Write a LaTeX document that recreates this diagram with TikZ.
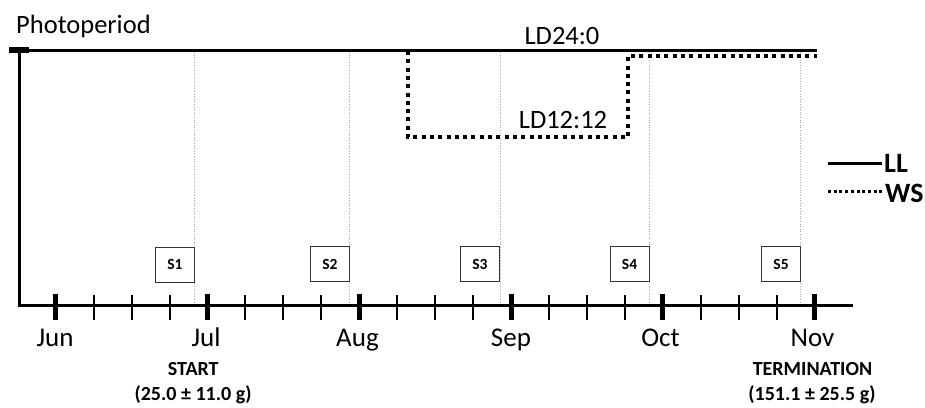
\documentclass[tikz,border=0pt]{standalone}
\usepackage{fontspec}
\setmainfont{Carlito}
\tikzset{
  mainline/.style={line width=3pt, black},
  wsline/.style={line width=4pt, black, dash pattern=on 4pt off 4.3pt},
  legws/.style={line width=3pt, black, dash pattern=on 3pt off 2.7pt},
  guide/.style={line width=0.6pt, gray!70, dotted},
  majortick/.style={line width=5pt, black},
  minortick/.style={line width=2pt, black},
  sbox/.style={draw=black!80, line width=0.8pt, minimum width=39pt, minimum height=35pt, inner sep=0pt, font=\fontsize{15.5}{18}\selectfont\bfseries},
  month/.style={anchor=base, inner sep=0pt, font=\fontsize{27}{30}\selectfont},
  biglbl/.style={anchor=base, inner sep=0pt, font=\fontsize{26.5}{30}\selectfont},
  boldlbl/.style={anchor=base, inner sep=0pt, font=\fontsize{20}{24}\selectfont\bfseries},
  leglbl/.style={anchor=base west, inner sep=0pt, font=\fontsize{28}{30}\selectfont\bfseries}
}
\begin{document}
\begin{tikzpicture}[x=1pt,y=-1pt]
\useasboundingbox (0,0) rectangle (925,407);
% guides
\foreach \gx in {194,349,500,649,800} {
  \draw[guide] (\gx,52) -- (\gx,304);
}
% axes
\coordinate (top) at (19,50);
\coordinate (origin) at (19,305);
\coordinate (axend) at (853,305);
\coordinate (llend) at (817,50);
\draw[mainline] (top) -- (origin) -- (axend);
\fill (9,47) rectangle (29,53);
\draw[mainline] (29,50) -- (llend);
% WS
\coordinate (w1) at (408,51);
\coordinate (w2) at (408,137);
\coordinate (w3) at (628,137);
\coordinate (w4) at (628,56);
\coordinate (w5) at (817,56);
\draw[wsline] (w1) -- (w2) -- (w3) -- (w4) -- (w5);
% ticks
\foreach \i in {0,...,20} {
  \pgfmathsetmacro{\tx}{55.7+\i*37.95}
  \pgfmathtruncatemacro{\m}{mod(\i,4)}
  \ifnum\m=0
    \draw[majortick] (\tx,294) -- (\tx,320);
  \else
    \draw[minortick] (\tx,295) -- (\tx,320);
  \fi
}
% months
\node[month] (jun) at (55,346) {Jun};
\node[month] (jul) at (206,346) {Jul};
\node[month] (aug) at (357.5,346) {Aug};
\node[month] (sep) at (511,346) {Sep};
\node[month] (oct) at (660.5,346) {Oct};
\node[month] (nov) at (812.5,346) {Nov};
% start/termination
\node[boldlbl] (start) at (193.3,375) {START};
\node[boldlbl] (startw) at (193,400) {(25.0 ± 11.0 g)};
\node[boldlbl] (term) at (812.5,375) {TERMINATION};
\node[boldlbl] (termw) at (812,400) {(151.1 ± 25.5 g)};
% sample boxes
\node[sbox] (s1) at (175,264.5) {S1};
\node[sbox] (s2) at (330,264) {S2};
\node[sbox] (s3) at (480,264) {S3};
\node[sbox] (s4) at (629.5,264) {S4};
\node[sbox] (s5) at (781,264) {S5};
% labels
\node[biglbl, anchor=base west] (photo) at (16,33) {Photoperiod};
\node[biglbl] (ld24) at (562,44) {LD24:0};
\node[biglbl] (ld12) at (563,128) {LD12:12};
% legend
\coordinate (ll1) at (828,163);
\coordinate (ll2) at (882,163);
\coordinate (ws1) at (828,191);
\coordinate (ws2) at (883,191);
\draw[mainline] (ll1) -- (ll2);
\draw[legws] (ws1) -- (ws2);
\node[leglbl] (ll) at (884,172) {LL};
\node[leglbl] (ws) at (885,202) {WS};
\end{tikzpicture}
\end{document}
